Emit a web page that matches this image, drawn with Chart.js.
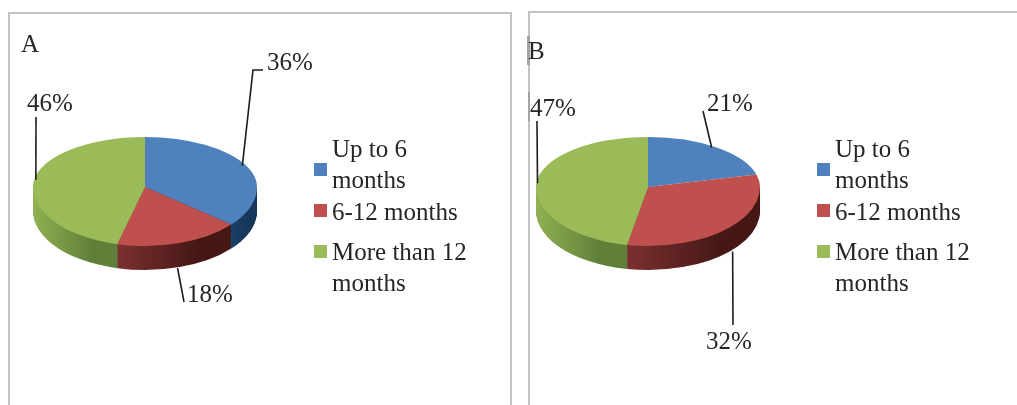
<!DOCTYPE html>
<html><head><meta charset="utf-8">
<style>
html,body{margin:0;padding:0;background:#fff;width:1017px;height:405px;overflow:hidden}
canvas{position:absolute;top:0}
.b{position:absolute;background:#c2c2c2}
</style>
<script src="https://cdn.jsdelivr.net/npm/chart.js@4/dist/chart.umd.js"></script>
</head><body>
<div class="b" style="left:8px;top:12px;width:2px;height:393px"></div>
<div class="b" style="left:8px;top:12px;width:504px;height:2px"></div>
<div class="b" style="left:510px;top:12px;width:2px;height:393px"></div>
<div class="b" style="left:528px;top:11px;width:2px;height:394px"></div>
<div class="b" style="left:528px;top:11px;width:489px;height:2px"></div>
<div class="b" style="left:527px;top:36px;width:3px;height:29px;background:#a4a4a4"></div>
<div class="b" style="left:528px;top:92px;width:2px;height:29px;background:#a4a4a4"></div>
<canvas id="a" width="510" height="405" style="left:0"></canvas>
<canvas id="b" width="510" height="405" style="left:503px"></canvas>
<script>
const categories = ['Up to 6 months', '6-12 months', 'More than 12 months'];
const valuesA = [36, 18, 46];
const valuesB = [21, 32, 47];
const topColors = ['#4f81bd', '#c0504d', '#9bbb59'];
const sideLeft = ['#1b3f66', '#7c3030', '#90b052'];
const sideRight = ['#16365a', '#451816', '#60803a'];

// Layout (pixels inside each canvas)
const RX = 112, CX = 145, CY = 187, RY_UP = 50, RY_DOWN = 59, DEPTH = 24;
const FONT = '25px "Liberation Serif"', INK = '#262626';
const swatchCentres = [169.5, 210.5, 251.5];
const rowBaselines = [157, 220, 260];
const lineStep = 30.5;
const layoutA = {
  title: ['A', 21, 52],
  labels: [[267, 70], [187, 302], [27, 111]],
  vias: [[[253, 70], [263, 70]], [[184, 302]], [[36, 117]]],
  shift: [[-4, 0], [-2, 1], [2, -1]]
};
const layoutB = {
  title: ['B', 25, 59],
  labels: [[204, 111], [203, 349], [27, 116]],
  vias: [[[200, 111]], [[230, 325]], [[34, 121]]],
  shift: [[-5, 0], [3, 0], [1, 1]]
};

function rim(arc, angle, d) {
  const s = Math.sin(angle);
  return [arc.x + RX * Math.cos(angle), arc.y + s * (s > 0 ? RY_DOWN : RY_UP) + (s > 0 ? d : 0)];
}
function withHalf(ctx, chart, lower, dy, fn) {
  const k = (lower ? RY_DOWN : RY_UP) / RX;
  ctx.save();
  ctx.beginPath();
  if (lower) ctx.rect(0, CY - 0.5 + dy, chart.width, chart.height);
  else ctx.rect(0, 0, chart.width, CY);
  ctx.clip();
  ctx.translate(CX, CY + dy);
  ctx.scale(1, k);
  ctx.translate(-CX, -CY);
  fn();
  ctx.restore();
}
function wrap(ctx, text, maxW) {
  const out = []; let line = '';
  for (const w of text.split(' ')) {
    const t = line ? line + ' ' + w : w;
    if (line && ctx.measureText(t).width > maxW) { out.push(line); line = w; } else line = t;
  }
  out.push(line);
  return out;
}
const pie3d = {
  id: 'pie3d',
  beforeDatasetsDraw(chart) {
    const ctx = chart.ctx, arcs = chart.getDatasetMeta(0).data;
    const grads = arcs.map((arc, i) => {
      let lo = Infinity, hi = -Infinity;
      for (let n = 0; n <= 200; n++) {
        const a = arc.startAngle + (arc.endAngle - arc.startAngle) * n / 200;
        if (Math.sin(a) >= 0) { const x = arc.x + RX * Math.cos(a); lo = Math.min(lo, x); hi = Math.max(hi, x); }
      }
      if (lo === Infinity) return sideLeft[i];
      const g = ctx.createLinearGradient(lo, 0, hi, 0);
      g.addColorStop(0, sideLeft[i]);
      g.addColorStop(0.7, sideRight[i]);
      g.addColorStop(1, sideRight[i]);
      return g;
    });
    const paint = (arc, color) => {
      const o = arc.options;
      arc.options = Object.assign({}, o, { backgroundColor: color });
      arc.draw(ctx);
      arc.options = o;
    };
    for (let d = DEPTH; d >= 1; d--) {
      withHalf(ctx, chart, true, d, () => arcs.forEach((arc, i) => paint(arc, grads[i])));
    }
    [true, false].forEach(lower => withHalf(ctx, chart, lower, 0, () => {
      arcs.forEach((arc, i) => paint(arc, topColors[i]));
    }));
    return false;
  },
  afterDraw(chart, _a, opts) {
    const ctx = chart.ctx, arcs = chart.getDatasetMeta(0).data, L = opts.layout;
    const vals = chart.data.datasets[0].data;
    ctx.save();
    ctx.font = FONT; ctx.fillStyle = INK; ctx.textAlign = 'left'; ctx.textBaseline = 'alphabetic';
    ctx.fillText(L.title[0], L.title[1], L.title[2]);
    arcs.forEach((arc, i) => {
      const mid = (arc.startAngle + arc.endAngle) / 2;
      const p = rim(arc, mid, DEPTH * (Math.sin(mid) > 0.3 ? 1 : 0));
      ctx.beginPath();
      ctx.moveTo(p[0] + L.shift[i][0], p[1] + L.shift[i][1]);
      L.vias[i].forEach(v => ctx.lineTo(v[0], v[1]));
      ctx.strokeStyle = '#1c1c1c';
      ctx.lineWidth = 1.6;
      ctx.stroke();
      ctx.fillText(vals[i] + '%', L.labels[i][0], L.labels[i][1]);
    });
    chart.data.labels.forEach((lab, i) => {
      ctx.fillStyle = topColors[i];
      ctx.fillRect(314, swatchCentres[i] - 6.5, 13, 13);
      ctx.fillStyle = INK;
      wrap(ctx, lab, 145).forEach((ln, j) => ctx.fillText(ln, 332, rowBaselines[i] + j * lineStep));
    });
    ctx.restore();
  }
};
function makePie(id, values, layout) {
  const c = document.getElementById(id);
  return new Chart(c, {
    type: 'pie',
    data: { labels: categories, datasets: [{ data: values, backgroundColor: topColors, borderWidth: 0 }] },
    options: {
      responsive: false, animation: false,
      layout: { padding: { left: CX - RX, right: c.width - CX - RX, top: CY - RX, bottom: c.height - CY - RX } },
      plugins: { legend: { display: false }, tooltip: { enabled: false }, pie3d: { layout } }
    },
    plugins: [pie3d]
  });
}
makePie('a', valuesA, layoutA);
makePie('b', valuesB, layoutB);
</script>
</body></html>
